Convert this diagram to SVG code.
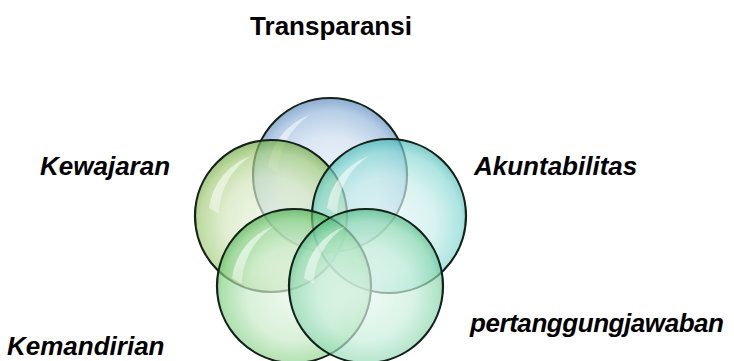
<svg xmlns="http://www.w3.org/2000/svg" width="734" height="361" viewBox="0 0 734 361">
  <style>
    .lbl { font-family: "Liberation Sans", Arial, sans-serif; font-weight: bold; font-size: 26px; fill: #000; }
    .it { font-style: italic; }
    .ring { stroke: #15221a; stroke-width: 2.2; fill-opacity: 0.68; }
    .hl { fill: url(#gHl); }
  </style>
  <defs>
    <radialGradient id="gBlue" cx="0.5" cy="0.55" r="0.55">
      <stop offset="0" stop-color="#e6eff8"/>
      <stop offset="0.55" stop-color="#cadcee"/>
      <stop offset="0.85" stop-color="#93b6da"/>
      <stop offset="1" stop-color="#5684b8"/>
    </radialGradient>
    <radialGradient id="gLeft" cx="0.5" cy="0.55" r="0.55">
      <stop offset="0" stop-color="#ecf3e2"/>
      <stop offset="0.55" stop-color="#d3e6bd"/>
      <stop offset="0.85" stop-color="#a2cc78"/>
      <stop offset="1" stop-color="#6aa33a"/>
    </radialGradient>
    <radialGradient id="gRight" cx="0.5" cy="0.55" r="0.55">
      <stop offset="0" stop-color="#e6f8f7"/>
      <stop offset="0.55" stop-color="#c4ece9"/>
      <stop offset="0.85" stop-color="#86d8d3"/>
      <stop offset="1" stop-color="#3fb5b0"/>
    </radialGradient>
    <radialGradient id="gBL" cx="0.5" cy="0.55" r="0.55">
      <stop offset="0" stop-color="#e8f6e8"/>
      <stop offset="0.55" stop-color="#c8eac8"/>
      <stop offset="0.85" stop-color="#88d288"/>
      <stop offset="1" stop-color="#44ac44"/>
    </radialGradient>
    <radialGradient id="gBR" cx="0.5" cy="0.55" r="0.55">
      <stop offset="0" stop-color="#e8f8f0"/>
      <stop offset="0.55" stop-color="#c8eedb"/>
      <stop offset="0.85" stop-color="#8ed8b2"/>
      <stop offset="1" stop-color="#46b47e"/>
    </radialGradient>
    <linearGradient id="gHl" x1="0" y1="0" x2="1" y2="1">
      <stop offset="0" stop-color="#ffffff" stop-opacity="0.9"/>
      <stop offset="1" stop-color="#ffffff" stop-opacity="0"/>
    </linearGradient>
    <path id="shine" d="M -62 -8 A 64 64 0 0 1 -20 -60 A 70 70 0 0 0 -52 -2 Z"/>
  </defs>

  <g id="circle-transparansi">
    <circle class="ring" cx="330" cy="175" r="77" fill="url(#gBlue)"/>
    <use href="#shine" class="hl" transform="translate(330 175)"/>
  </g>
  <g id="circle-kewajaran">
    <circle class="ring" cx="271" cy="216" r="76" fill="url(#gLeft)"/>
    <use href="#shine" class="hl" transform="translate(271 216)"/>
  </g>
  <g id="circle-akuntabilitas">
    <circle class="ring" cx="389" cy="216" r="77" fill="url(#gRight)"/>
    <use href="#shine" class="hl" transform="translate(389 216)"/>
  </g>
  <g id="circle-kemandirian">
    <circle class="ring" cx="294" cy="286" r="77" fill="url(#gBL)"/>
    <use href="#shine" class="hl" transform="translate(294 286)"/>
  </g>
  <g id="circle-pertanggungjawaban">
    <circle class="ring" cx="366" cy="286" r="77" fill="url(#gBR)"/>
    <use href="#shine" class="hl" transform="translate(366 286)"/>
  </g>

  <g id="connectors"></g>

  <g id="labels">
    <text class="lbl" x="331" y="35" text-anchor="middle">Transparansi</text>
    <text class="lbl it" x="40" y="175">Kewajaran</text>
    <text class="lbl it" x="474" y="175">Akuntabilitas</text>
    <text class="lbl it" x="7" y="355">Kemandirian</text>
    <text class="lbl it" x="470" y="332" textLength="254">pertanggungjawaban</text>
  </g>
</svg>
